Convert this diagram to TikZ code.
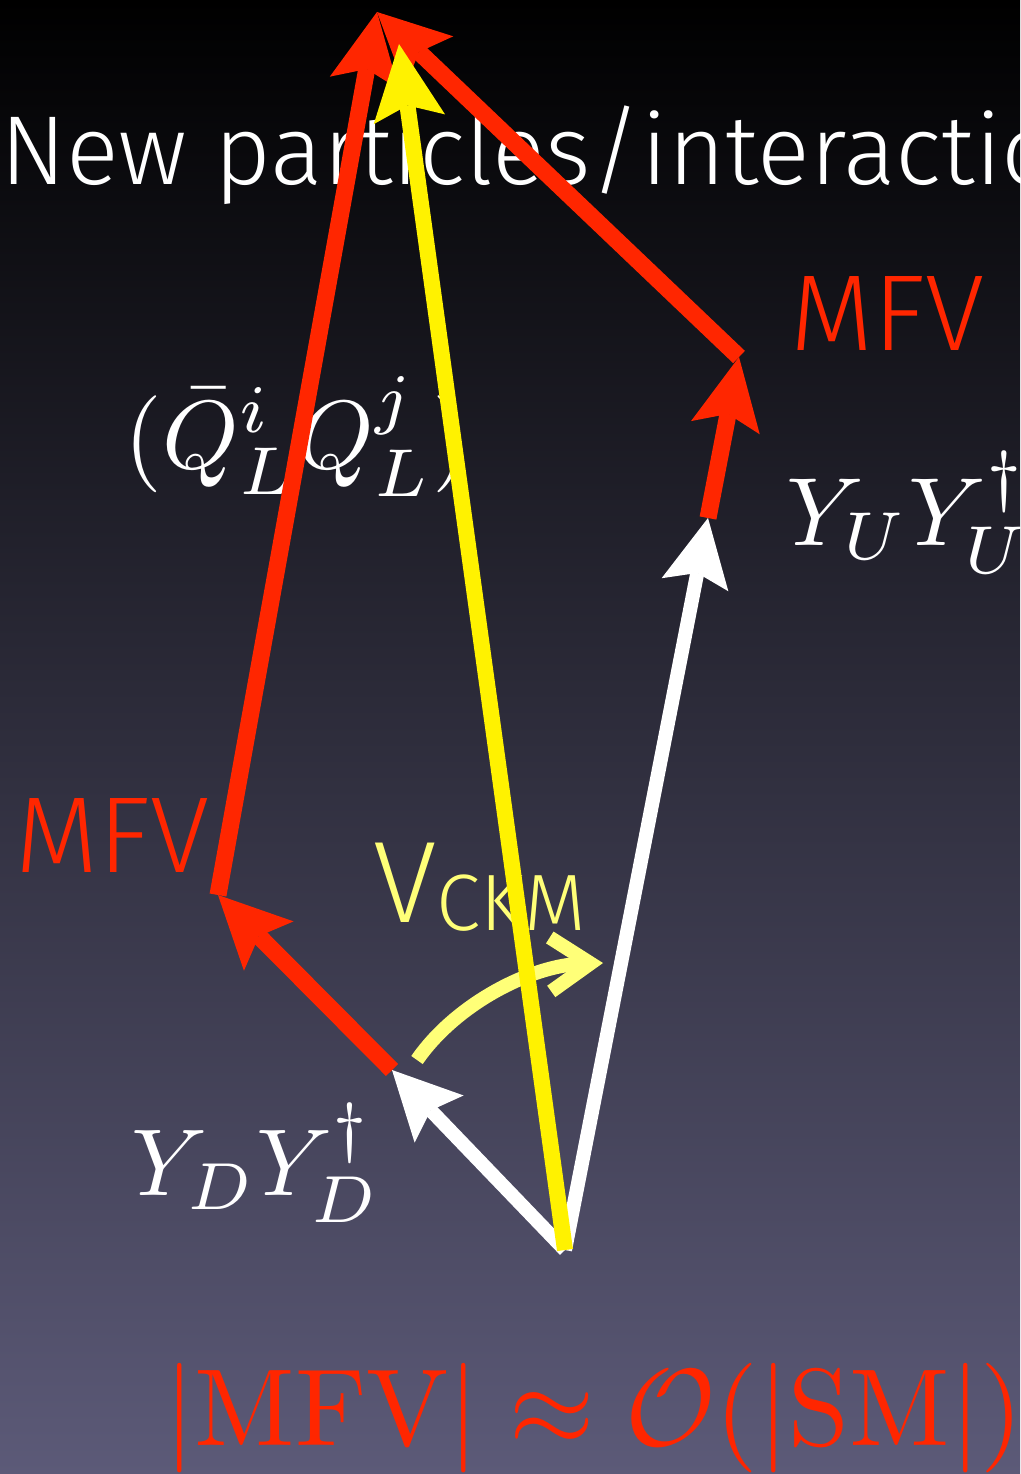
\documentclass[tikz,border=0pt]{standalone}
\usepackage{fontspec}
\newfontfamily\gillfont{Fira Sans Light}
\usepackage{xcolor}
\usepackage{tikz}
\usetikzlibrary{arrows.meta, positioning}

\definecolor{mfvred}{RGB}{255,38,0}
\definecolor{ckmyellow}{RGB}{255,255,120}
\definecolor{bgmid}{RGB}{26,26,72}
\definecolor{bgbot}{RGB}{92,90,120}

\begin{document}
\begin{tikzpicture}[
  x=1pt, y=-1pt,
  mfvvec/.style={draw=mfvred, line width=17pt,
                 -{Stealth[length=72pt, width=70pt, inset=14pt, line width=0pt]}},
  smvec/.style={draw=white, line width=14pt,
                -{Stealth[length=68pt, width=68pt, inset=12pt, line width=0pt]}},
  newvec/.style={draw=yellow, line width=16pt,
                 -{Stealth[length=76pt, width=72pt, inset=14pt, line width=0pt]}},
  ckmturn/.style={draw=ckmyellow, line width=14pt,
                  -{Straight Barb[length=40pt, width=54pt]}},
  mathlabel/.style={text=white, inner sep=0pt, anchor=base west, scale=9.7},
  mfvlabel/.style={text=mfvred, inner sep=0pt, anchor=base west,
                   font=\gillfont\fontsize{108}{120}\selectfont},
]
  \useasboundingbox (0,0) rectangle (1020,1474);
  \clip (0,0) rectangle (1020,1474);
  \fill[top color=black, middle color=bgmid, bottom color=bgbot] (0,0) rectangle (1020,1474);

  % corners of the vector picture
  \coordinate (o) at (565,1250);
  \coordinate (yd) at (392,1070);
  \coordinate (mfvd) at (218,895);
  \coordinate (np) at (377,12);
  \coordinate (yu) at (708,518);
  \coordinate (mfvu) at (739,357);
  \coordinate (npy) at (399,44);
  \coordinate (ckma) at (417,1060);
  \coordinate (ckmb) at (603,963);

  % labels
  \node[anchor=base west, inner sep=0pt, text=white,
        font=\gillfont\fontsize{98}{110}\selectfont] (title) at (0,185) {New particles/interactions};
  \node[mfvlabel] (mfvup) at (790,350) {MFV};
  \node[mfvlabel] (mfvdown) at (15,872) {MFV};
  \node[anchor=base west, inner sep=0pt, text=ckmyellow,
        font=\gillfont\fontsize{116}{120}\selectfont] (ckm) at (373,922)
        {V\raisebox{-8pt}{\fontsize{80}{88}\selectfont CKM}};
  \node[mathlabel] (qq) at (123,468) {$(\bar{Q}^i_L Q^j_L)$};
  \node[mathlabel] (yuyu) at (785,545) {$Y_U Y_U^\dagger$};
  \node[mathlabel, scale=0.98] (ydyd) at (130,1195) {$Y_D Y_D^\dagger$};
  \node[mathlabel, text=mfvred, scale=1.13] (order) at (162,1445)
        {$|\mathrm{MFV}| \approx \mathcal{O}(|\mathrm{SM}|)$};

  % vectors
  \draw[mfvvec] (yd) -- (mfvd);
  \draw[mfvvec] (mfvd) -- (np);
  \draw[mfvvec] (yu) -- (mfvu);
  \draw[mfvvec] (mfvu) -- (np);
  \draw[smvec] (o) -- (yd);
  \draw[smvec] (o) -- (yu);
  \draw[ckmturn] (ckma) .. controls (455,1005) and (530,965) .. (ckmb);
  \draw[newvec] (o) -- (npy);
\end{tikzpicture}
\end{document}
